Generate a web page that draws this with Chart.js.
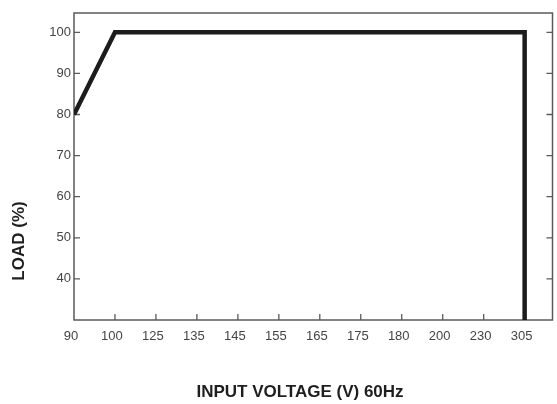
<!DOCTYPE html>
<html>
<head>
<meta charset="utf-8">
<script src="https://cdn.jsdelivr.net/npm/chart.js@4/dist/chart.umd.min.js"></script>
<style>
  html, body { margin: 0; padding: 0; background: #ffffff; }
  #wrap { width: 557px; height: 404px; position: relative; }
</style>
</head>
<body>
<div id="wrap"><canvas id="c"></canvas></div>
<script>
// ---- data ----
const voltageLabels = ['90', '100', '125', '135', '145', '155', '165', '175', '180', '200', '230', '305'];
const loadValues = [80, 100, 100, 100, 100, 100, 100, 100, 100, 100, 100, 100];
const cutoffLoad = 30; // load drops to the axis floor at 305 V
const yTickValues = [40, 50, 60, 70, 80, 90, 100];
const xTitle = 'INPUT VOLTAGE (V) 60Hz';
const yTitle = 'LOAD (%)';

const points = loadValues.map((v, i) => ({ x: i, y: v }));
points.push({ x: voltageLabels.length - 1, y: cutoffLoad });

const frameAndTicks = {
  id: 'frameAndTicks',
  beforeDatasetsDraw(chart) {
    const { ctx, chartArea: a, scales } = chart;
    ctx.save();
    ctx.strokeStyle = '#5a5a5a';
    ctx.lineWidth = 1.5;
    ctx.strokeRect(a.left, a.top, a.right - a.left, a.bottom - a.top);
    ctx.lineWidth = 1.3;
    const tl = 6;
    ctx.beginPath();
    scales.y.ticks.forEach(t => {
      const py = scales.y.getPixelForValue(t.value);
      ctx.moveTo(a.left, py); ctx.lineTo(a.left + tl, py);
      ctx.moveTo(a.right, py); ctx.lineTo(a.right - tl, py);
    });
    scales.x.ticks.forEach(t => {
      if (t.value === 0) return;
      const px = scales.x.getPixelForValue(t.value);
      ctx.moveTo(px, a.bottom); ctx.lineTo(px, a.bottom - tl);
    });
    ctx.stroke();
    ctx.restore();
  },
  afterDraw(chart) {
    const { ctx } = chart;
    ctx.save();
    ctx.fillStyle = '#1e1e1e';
    ctx.font = 'bold 17px "Liberation Sans", Arial, sans-serif';
    ctx.textAlign = 'center';
    ctx.textBaseline = 'middle';
    ctx.fillText(xTitle, 300, 392);
    ctx.translate(19, 241);
    ctx.rotate(-Math.PI / 2);
    ctx.fillText(yTitle, 0, 0);
    ctx.restore();
  }
};

new Chart(document.getElementById('c'), {
  type: 'line',
  data: {
    datasets: [{
      data: points,
      borderColor: '#1c1c1c',
      borderWidth: 4.5,
      borderJoinStyle: 'miter',
      borderCapStyle: 'butt',
      pointRadius: 0,
      tension: 0,
      fill: false
    }]
  },
  options: {
    responsive: true,
    maintainAspectRatio: false,
    animation: false,
    events: [],
    layout: { padding: { left: 0, right: 4.5, top: 13, bottom: 0 } },
    plugins: { legend: { display: false }, tooltip: { enabled: false } },
    scales: {
      x: {
        type: 'linear',
        min: 0,
        max: 11.68,
        afterBuildTicks(scale) { scale.ticks = voltageLabels.map((_, i) => ({ value: i })); },
        afterFit(scale) { scale.height = 84; },
        grid: { display: false, drawTicks: false },
        border: { display: false },
        ticks: {
          autoSkip: false,
          maxRotation: 0,
          padding: 9,
          labelOffset: -3,
          color: '#444444',
          font: { family: '"Liberation Sans", Arial, sans-serif', size: 13 },
          callback: (v) => voltageLabels[v] ?? ''
        }
      },
      y: {
        type: 'linear',
        min: cutoffLoad,
        max: 104.7,
        afterBuildTicks(scale) { scale.ticks = yTickValues.map(v => ({ value: v })); },
        afterFit(scale) { scale.width = 74; },
        grid: { display: false, drawTicks: false },
        border: { display: false },
        ticks: {
          padding: 3,
          color: '#444444',
          font: { family: '"Liberation Sans", Arial, sans-serif', size: 13 }
        }
      }
    }
  },
  plugins: [frameAndTicks]
});
</script>
</body>
</html>
